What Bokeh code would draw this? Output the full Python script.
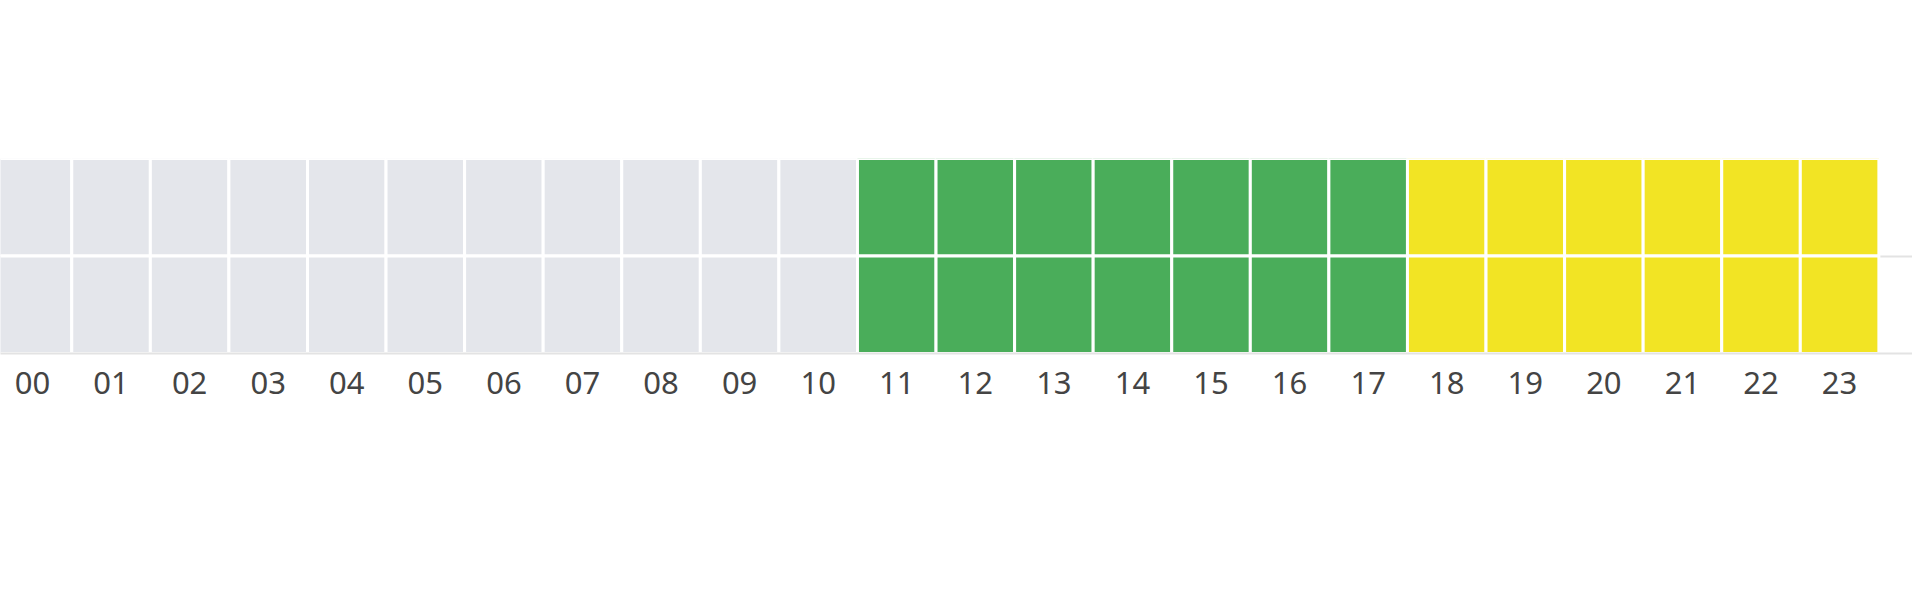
from bokeh.plotting import figure
from bokeh.models import Range1d, FixedTicker, ColumnDataSource
from bokeh.embed import file_html
from bokeh.resources import INLINE

# ---- data ----
hours = ["00", "01", "02", "03", "04", "05", "06", "07", "08", "09", "10", "11",
         "12", "13", "14", "15", "16", "17", "18", "19", "20", "21", "22", "23"]
rows = ["row1", "row2"]
# status per hour for each row: 0 = none, 1 = green, 2 = yellow
status_row1 = [0, 0, 0, 0, 0, 0, 0, 0, 0, 0, 0, 1, 1, 1, 1, 1, 1, 1, 2, 2, 2, 2, 2, 2]
status_row2 = [0, 0, 0, 0, 0, 0, 0, 0, 0, 0, 0, 1, 1, 1, 1, 1, 1, 1, 2, 2, 2, 2, 2, 2]
status_colors = ["#e4e6eb", "#4aad5a", "#f2e424"]

xs, ys, cs = [], [], []
for r, statuses in enumerate([status_row1, status_row2]):
    for i, s in enumerate(statuses):
        xs.append(i)
        ys.append(1 - r)
        cs.append(status_colors[s])
src = ColumnDataSource(dict(x=xs, y=ys, color=cs))

p = figure(width=1912, height=584, output_backend="svg", toolbar_location=None,
           x_range=Range1d(-0.407, 23.928), y_range=Range1d(-0.5, 1.5),
           min_border_left=0, min_border_right=0, min_border_top=158, min_border_bottom=231)
p.outline_line_color = None
p.background_fill_color = "white"
p.border_fill_color = "white"

p.rect(x="x", y="y", width=1, height=1, source=src, fill_color="color",
       line_color="white", line_width=3)

p.xgrid.visible = False
p.ygrid.ticker = FixedTicker(ticks=[0.5])
p.ygrid.grid_line_color = "#e3e3e3"
p.ygrid.grid_line_width = 2

p.yaxis.visible = False
ax = p.xaxis[0]
ax.ticker = FixedTicker(ticks=list(range(len(hours))))
ax.major_label_overrides = {i: h for i, h in enumerate(hours)}
ax.axis_line_color = "#e3e3e3"
ax.axis_line_width = 2
ax.major_tick_line_color = None
ax.minor_tick_line_color = None
ax.major_tick_out = 0
ax.major_tick_in = 0
ax.major_label_standoff = 18
ax.major_label_text_font = "Noto Sans"
ax.major_label_text_font_size = "31px"
ax.major_label_text_color = "#444444"

open("out.html", "w").write(file_html(p, INLINE))
